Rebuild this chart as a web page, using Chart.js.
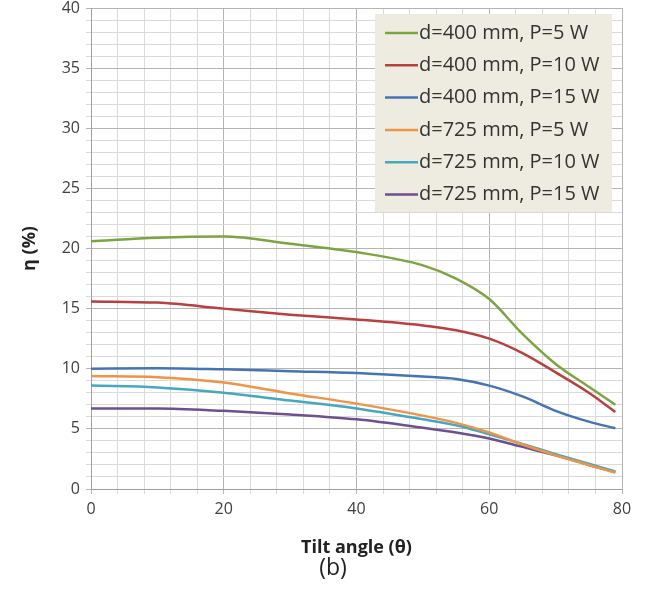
<!DOCTYPE html>
<html>
<head>
<meta charset="utf-8">
<script src="https://cdn.jsdelivr.net/npm/chart.js@4"></script>
<style>
  html, body { margin: 0; padding: 0; background: #fff; }
  #wrap { position: relative; width: 646px; height: 595px; }
  #caption {
    position: absolute; left: 233px; width: 200px; top: 550px;
    text-align: center; font: 23px "Open Sans", sans-serif; color: #222;
  }
</style>
</head>
<body>
<div id="wrap">
  <canvas id="etaChart" width="646" height="595"></canvas>
  <div id="caption">(b)</div>
</div>
<script>
// tilt angle samples (deg)
var angles = [0, 10, 20, 30, 40, 50, 55, 60, 65, 70, 75, 79];

// efficiency η (%)
var d400p5  = [20.6, 20.9, 21.0, 20.4, 19.7, 18.6, 17.5, 15.8, 12.9, 10.4, 8.5, 7.0];
var d400p10 = [15.6, 15.5, 15.0, 14.5, 14.1, 13.6, 13.2, 12.5, 11.3, 9.7, 8.0, 6.4];
var d400p15 = [10.0, 10.05, 9.95, 9.8, 9.65, 9.35, 9.15, 8.6, 7.7, 6.5, 5.6, 5.05];
var d725p5  = [9.4, 9.3, 8.85, 7.95, 7.1, 6.1, 5.5, 4.7, 3.7, 2.8, 2.0, 1.35];
var d725p10 = [8.6, 8.45, 8.0, 7.35, 6.7, 5.8, 5.3, 4.55, 3.75, 2.9, 2.1, 1.45];
var d725p15 = [6.7, 6.7, 6.5, 6.2, 5.8, 5.1, 4.7, 4.2, 3.5, 2.8, 2.0, 1.4];

var seriesNames = ['d=400 mm, P=5 W', 'd=400 mm, P=10 W', 'd=400 mm, P=15 W',
                   'd=725 mm, P=5 W', 'd=725 mm, P=10 W', 'd=725 mm, P=15 W'];
var seriesData = [d400p5, d400p10, d400p15, d725p5, d725p10, d725p15];
var seriesColors = ['#7ca443', '#b8403e', '#4574b4', '#ef9445', '#45a7c0', '#6d4f92'];

var xTickLabels = [0, 20, 40, 60, 80];
var yTickLabels = [0, 5, 10, 15, 20, 25, 30, 35, 40];

var datasets = seriesData.map(function (vals, i) {
  return {
    label: seriesNames[i],
    data: vals.map(function (v, j) { return { x: angles[j], y: v }; }),
    borderColor: seriesColors[i],
    backgroundColor: seriesColors[i],
    borderWidth: 2.5,
    pointRadius: 0,
    cubicInterpolationMode: 'monotone',
    fill: false
  };
});

// legend box drawn inside the plot, Excel style
var insideLegend = {
  id: 'insideLegend',
  afterDatasetsDraw: function (chart) {
    var ctx = chart.ctx, area = chart.chartArea;
    var bx = area.right - 247, by = area.top + 6, bw = 237, bh = 198;
    ctx.save();
    ctx.fillStyle = '#eeece1';
    ctx.fillRect(bx, by, bw, bh);
    ctx.font = '20px "Open Sans", sans-serif';
    ctx.textBaseline = 'middle';
    chart.data.datasets.forEach(function (ds, i) {
      var y = by + 19 + i * 32.3;
      ctx.strokeStyle = ds.borderColor;
      ctx.lineWidth = 2.5;
      ctx.beginPath();
      ctx.moveTo(bx + 10, y);
      ctx.lineTo(bx + 43, y);
      ctx.stroke();
      ctx.fillStyle = '#333';
      ctx.fillText(ds.label, bx + 44, y);
    });
    ctx.restore();
  }
};

new Chart(document.getElementById('etaChart').getContext('2d'), {
  type: 'line',
  data: { datasets: datasets },
  plugins: [insideLegend],
  options: {
    responsive: false,
    animation: false,
    layout: { padding: { top: 8, right: 24, left: 0, bottom: 0 } },
    plugins: { legend: { display: false }, tooltip: { enabled: false } },
    scales: {
      x: {
        type: 'linear', min: 0, max: 80,
        afterFit: function (s) { s.height = 106; s.paddingLeft = 0; s.paddingRight = 0; },
        ticks: {
          stepSize: 4, padding: 6, color: '#404040',
          font: { family: '"Open Sans", sans-serif', size: 16 },
          autoSkip: false, maxRotation: 0,
          callback: function (v) { return xTickLabels.indexOf(v) >= 0 ? v : ''; }
        },
        grid: {
          tickLength: 5,
          color: function (c) { return c.tick && c.tick.value % 20 === 0 ? '#b4b4b4' : '#dadada'; }
        },
        border: { color: '#a0a0a0' },
        title: {
          display: true, text: 'Tilt angle (θ)', color: '#222',
          font: { family: '"Open Sans", sans-serif', size: 18, weight: 'bold' },
          padding: { top: 0, bottom: 36 }
        }
      },
      y: {
        min: 0, max: 40,
        afterFit: function (s) { s.width = 91; s.paddingTop = 0; s.paddingBottom = 0; },
        ticks: {
          stepSize: 1, padding: 6, color: '#404040',
          font: { family: '"Open Sans", sans-serif', size: 16 },
          autoSkip: false,
          callback: function (v) { return yTickLabels.indexOf(v) >= 0 ? v : ''; }
        },
        grid: {
          tickLength: 5,
          color: function (c) { return c.tick && c.tick.value % 5 === 0 ? '#b4b4b4' : '#dadada'; }
        },
        border: { color: '#a0a0a0' },
        title: {
          display: true, text: 'η (%)', color: '#222',
          font: { family: '"Open Sans", sans-serif', size: 18, weight: 'bold' },
          padding: { top: 19, bottom: 0 }
        }
      }
    }
  }
});
</script>
</body>
</html>
